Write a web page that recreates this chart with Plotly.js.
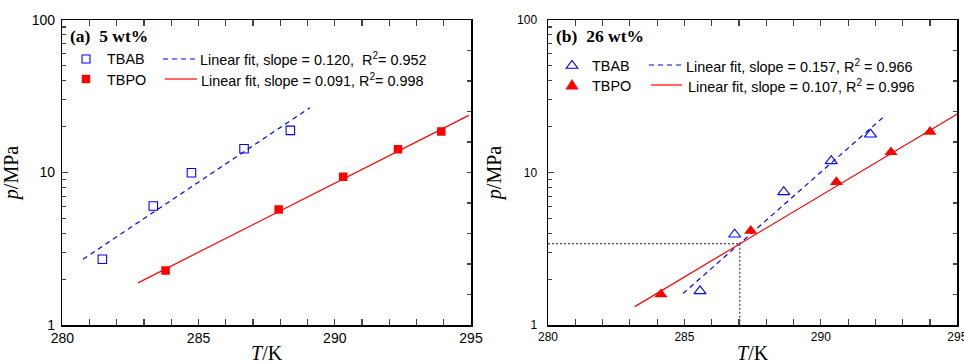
<!DOCTYPE html>
<html><head><meta charset="utf-8">
<script src="https://cdn.plot.ly/plotly-3.0.1.min.js"></script>
<style>html,body{margin:0;padding:0;background:#fff}#chart{width:964px;height:364px}</style>
</head><body><div id="chart"></div>
<script>
// ---- Panel (a): 5 wt% ----
const a_tbab_T = [281.47, 283.34, 284.74, 286.67, 288.37];
const a_tbab_p = [2.70, 6.03, 9.97, 14.3, 18.9];
const a_tbpo_T = [283.79, 287.94, 290.31, 292.32, 293.91];
const a_tbpo_p = [2.28, 5.73, 9.39, 14.2, 18.6];
const a_fitTbab_T = [280.76, 289.09];
const a_fitTbab_p = [2.70, 26.6];
const a_fitTbpo_T = [282.78, 294.92];
const a_fitTbpo_p = [1.89, 23.7];

// ---- Panel (b): 26 wt% ----
const b_tbab_T = [285.57, 286.84, 288.64, 290.38, 291.82];
const b_tbab_p = [1.67, 3.93, 7.45, 11.9, 17.8];
const b_tbpo_T = [284.14, 287.43, 290.57, 292.57, 294.0];
const b_tbpo_p = [1.59, 4.15, 8.66, 13.6, 18.5];
const b_fitTbab_T = [284.95, 292.28];
const b_fitTbab_p = [1.61, 23.0];
const b_fitTbpo_T = [283.18, 295.0];
const b_fitTbpo_p = [1.32, 24.2];
const b_guideH_T = [280, 287.03];
const b_guideH_p = [3.41, 3.41];
const b_guideV_T = [287.03, 287.03];
const b_guideV_p = [3.41, 1];

// ---- Ticks and labels ----
const xTicks = [280, 285, 290, 295];
const yTicks = [1, 10, 100];
const yTickText = ['1', '10', '100'];
const yMinorTicks = [2,3,4,5,6,7,8,9,20,30,40,50,60,70,80,90];
const yRightTicks = [1.585, 2.512, 3.981, 6.310, 10, 15.85, 25.12, 39.81, 63.10];
const panelLabels = ['<b>(a)\u00a0 5 wt%</b>', '<b>(b)\u00a0 26 wt%</b>'];
const seriesNames = ['TBAB', 'TBPO'];
const fitLabelsA = ['Linear fit, slope = 0.120,\u00a0 R<sup>2</sup>= 0.952', 'Linear fit, slope = 0.091, R<sup>2</sup>= 0.998'];
const fitLabelsB = ['Linear fit, slope = 0.157, R<sup>2</sup> = 0.966', 'Linear fit, slope = 0.107, R<sup>2</sup> = 0.996'];

const W = 964, H = 364;
const PX = v => v / W;
const PY = v => 1 - v / H;
const BLUE = '#0000ff', RED = '#ff0000';
const SANS = 'Liberation Sans, Arial, sans-serif';
const SERIF = 'Liberation Serif, Times New Roman, serif';

const traces = [
  {x: a_fitTbab_T, y: a_fitTbab_p, xaxis: 'x', yaxis: 'y', mode: 'lines', line: {color: BLUE, width: 1.2, dash: '5px,4px'}},
  {x: a_fitTbpo_T, y: a_fitTbpo_p, xaxis: 'x', yaxis: 'y', mode: 'lines', line: {color: RED, width: 1.2}},
  {x: a_tbab_T, y: a_tbab_p, xaxis: 'x', yaxis: 'y', mode: 'markers', name: seriesNames[0],
   marker: {symbol: 'square-open', size: 8.5, color: BLUE, line: {width: 1.1, color: BLUE}}},
  {x: a_tbpo_T, y: a_tbpo_p, xaxis: 'x', yaxis: 'y', mode: 'markers', name: seriesNames[1],
   marker: {symbol: 'square', size: 8.5, color: RED}},

  {x: b_guideH_T, y: b_guideH_p, xaxis: 'x2', yaxis: 'y2', mode: 'lines', line: {color: '#000', width: 0.9, dash: '2px,2px'}},
  {x: b_guideV_T, y: b_guideV_p, xaxis: 'x2', yaxis: 'y2', mode: 'lines', line: {color: '#000', width: 0.9, dash: '2px,2px'}},
  {x: b_fitTbab_T, y: b_fitTbab_p, xaxis: 'x2', yaxis: 'y2', mode: 'lines', line: {color: BLUE, width: 1.2, dash: '5px,4px'}},
  {x: b_fitTbpo_T, y: b_fitTbpo_p, xaxis: 'x2', yaxis: 'y2', mode: 'lines', line: {color: RED, width: 1.2}},
  {x: b_tbab_T, y: b_tbab_p, xaxis: 'x2', yaxis: 'y2', mode: 'markers', name: seriesNames[0],
   marker: {symbol: 'triangle-up-open', size: 10.5, color: BLUE, line: {width: 1.1, color: BLUE}}},
  {x: b_tbpo_T, y: b_tbpo_p, xaxis: 'x2', yaxis: 'y2', mode: 'markers', name: seriesNames[1],
   marker: {symbol: 'triangle-up', size: 11.5, color: RED}},
  // right-hand mirrored axes (Origin style) carry the fit lines invisibly so the overlay axes exist
  {x: a_fitTbpo_T, y: a_fitTbpo_p, xaxis: 'x', yaxis: 'y3', mode: 'lines', line: {width: 0}, hoverinfo: 'skip', opacity: 0},
  {x: b_fitTbpo_T, y: b_fitTbpo_p, xaxis: 'x2', yaxis: 'y4', mode: 'lines', line: {width: 0}, hoverinfo: 'skip', opacity: 0}
];

const yDom = [(H - 325) / H, (H - 20) / H];
function xAxis(dom, fs, standoff) {
  return {domain: dom, range: [280, 295], tickvals: xTicks, ticks: 'inside', ticklen: 6, tickwidth: 1.2,
    minor: {dtick: 1, tick0: 280, ticks: 'inside', ticklen: 4, tickwidth: 1.1},
    showline: true, linewidth: 1.5, linecolor: '#000', mirror: 'allticks', showgrid: false, zeroline: false,
    tickfont: {family: SANS, size: fs, color: '#000'}, ticklabeloverflow: 'allow',
    title: {text: '<i>T</i>/K', font: {family: SERIF, size: 20, color: '#000'}, standoff: standoff}};
}
function yAxis(anchor, fs, standoff, lblOff) {
  return {domain: yDom, anchor: anchor, type: 'log', range: [0, 2], tickvals: yTicks, ticktext: yTickText,
    ticks: 'inside', ticklen: 6, tickwidth: 1.2,
    minor: {tickmode: 'array', tickvals: yMinorTicks, ticks: 'inside', ticklen: 4, tickwidth: 1.1},
    showline: true, linewidth: 1.5, linecolor: '#000', mirror: false, showgrid: false, zeroline: false,
    tickfont: {family: SANS, size: fs, color: '#000'}, ticklabelstandoff: lblOff,
    title: {text: '<i>p</i>/MPa', font: {family: SERIF, size: 20, color: '#000'}, standoff: standoff}};
}
function yRight(anchor, over) {
  return {domain: yDom, anchor: anchor, overlaying: over, side: 'right', type: 'log', range: [0, 2],
    tickvals: yRightTicks, ticks: 'inside', ticklen: 4, tickwidth: 1.1, showticklabels: false,
    showline: true, linewidth: 1.5, linecolor: '#000', showgrid: false, zeroline: false};
}

const annotations = [];
const shapes = [];
function addText(txt, x, y, font) {
  annotations.push({xref: 'paper', yref: 'paper', x: PX(x), y: PY(y), xanchor: 'left', yanchor: 'middle',
    text: txt, showarrow: false, font: font});
}
const legFont = {family: SANS, size: 14.4, color: '#000'};
const lblFont = {family: SERIF, size: 17.5, color: '#000'};

// Panel (a) legend
addText(panelLabels[0], 68, 36, lblFont);
shapes.push({type: 'rect', xref: 'paper', yref: 'paper', x0: PX(82), x1: PX(90), y0: PY(63), y1: PY(55), line: {color: BLUE, width: 1.1}});
addText(seriesNames[0], 105, 59.5, legFont);
shapes.push({type: 'line', xref: 'paper', yref: 'paper', x0: PX(163), x1: PX(197), y0: PY(59), y1: PY(59), line: {color: BLUE, width: 1.2, dash: '5px,4px'}});
addText(fitLabelsA[0], 198, 59.5, legFont);
shapes.push({type: 'rect', xref: 'paper', yref: 'paper', x0: PX(81.8), x1: PX(90.2), y0: PY(83.2), y1: PY(74.8), fillcolor: RED, line: {width: 0}});
addText(seriesNames[1], 105, 79.5, legFont);
shapes.push({type: 'line', xref: 'paper', yref: 'paper', x0: PX(165), x1: PX(197), y0: PY(79), y1: PY(79), line: {color: RED, width: 1.2}});
addText(fitLabelsA[1], 199, 79.5, legFont);

// Panel (b) legend
function tri(cx, cy, w, hu, hd) {
  return `M ${PX(cx - w)} ${PY(cy + hd)} L ${PX(cx + w)} ${PY(cy + hd)} L ${PX(cx)} ${PY(cy - hu)} Z`;
}
addText(panelLabels[1], 554, 36, lblFont);
shapes.push({type: 'path', xref: 'paper', yref: 'paper', path: tri(572, 65, 5.8, 4.6, 3.2), line: {color: BLUE, width: 1.1}});
addText(seriesNames[0], 590, 65.5, legFont);
shapes.push({type: 'line', xref: 'paper', yref: 'paper', x0: PX(649), x1: PX(682), y0: PY(65), y1: PY(65), line: {color: BLUE, width: 1.2, dash: '5px,4px'}});
addText(fitLabelsB[0], 684, 65.5, legFont);
shapes.push({type: 'path', xref: 'paper', yref: 'paper', path: tri(572, 85, 6.2, 5.6, 4.2), fillcolor: RED, line: {color: RED, width: 0.5}});
addText(seriesNames[1], 590, 85.5, legFont);
shapes.push({type: 'line', xref: 'paper', yref: 'paper', x0: PX(651), x1: PX(682), y0: PY(85), y1: PY(85), line: {color: RED, width: 1.2}});
addText(fitLabelsB[1], 686, 85.5, legFont);

const layout = {
  width: W, height: H, margin: {l: 0, r: 0, t: 0, b: 0}, showlegend: false,
  paper_bgcolor: '#fff', plot_bgcolor: '#fff',
  xaxis: Object.assign(xAxis([62.3 / W, 471 / W], 14, 11), {anchor: 'y'}),
  yaxis: yAxis('x', 14, 10, 3),
  xaxis2: Object.assign(xAxis([548 / W, 957.3 / W], 12, 13), {anchor: 'y2'}),
  yaxis2: yAxis('x2', 12, 10, 7),
  yaxis3: yRight('x', 'y'),
  yaxis4: yRight('x2', 'y2'),
  annotations: annotations, shapes: shapes
};
Plotly.newPlot('chart', traces, layout, {displayModeBar: false, staticPlot: true});
</script></body></html>
